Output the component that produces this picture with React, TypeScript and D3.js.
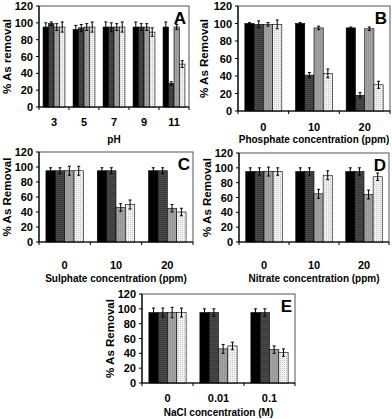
import * as d3 from 'd3';

// series order: black, dark grey, grey, dotted
const seriesKeys = ['s1', 's2', 's3', 's4'];
const yTicks = [0, 20, 40, 60, 80, 100, 120];

const phCats = ['3', '5', '7', '9', '11'];
const phMeans = [[95, 99, 95, 95], [92, 94, 95, 95], [95, 95, 95, 95], [95, 95, 95, 89], [95, 28, 95, 51]];
const phErrors = [[5, 2, 4, 6], [5, 4, 4, 6], [6, 5, 4, 6], [6, 4, 4, 5], [6, 2, 3, 4]];

const phosphateCats = ['0', '10', '20'];
const phosphateMeans = [[100, 99, 99, 99], [100, 41, 95, 43], [95, 18, 94, 30]];
const phosphateErrors = [[1, 4, 2, 5], [1, 3, 2, 5], [1, 3, 2, 4]];

const sulphateCats = ['0', '10', '20'];
const sulphateMeans = [[95, 95, 95, 95], [95, 95, 46, 50], [95, 95, 45, 40]];
const sulphateErrors = [[4, 4, 6, 6], [4, 4, 5, 6], [4, 4, 5, 5]];

const nitrateCats = ['0', '10', '20'];
const nitrateMeans = [[95, 95, 95, 95], [95, 95, 65, 90], [95, 95, 64, 88]];
const nitrateErrors = [[5, 5, 6, 5], [5, 5, 6, 6], [5, 5, 6, 5]];

const naclCats = ['0', '0.01', '0.1'];
const naclMeans = [[95, 95, 95, 95], [95, 95, 46, 50], [95, 95, 45, 41]];
const naclErrors = [[6, 6, 7, 6], [5, 5, 6, 5], [5, 5, 5, 5]];

const fills = ['#000000', 'url(#pat-dark)', 'url(#pat-mid)', 'url(#pat-dots)'];
const font = '"Liberation Sans", Arial, sans-serif';

type PanelProps = {
  letter: string;
  cats: string[];
  means: number[][];
  errors: number[][];
  xTitle: string;
  yTitle: string;
  left: number; right: number; top: number; bottom: number;
  catY: number; titleY: number; yTitleX: number;
};

function Panel(p: PanelProps) {
  const x = d3.scaleBand<string>().domain(p.cats).range([p.left, p.right])
    .paddingInner(0.27).paddingOuter(0.135);
  const inner = d3.scaleBand<string>().domain(seriesKeys).range([0, x.bandwidth()]);
  const y = d3.scaleLinear().domain([0, 120]).range([p.bottom, p.top]);
  const step = (p.right - p.left) / p.cats.length;
  const bounds = d3.range(p.cats.length + 1).map(i => p.left + i * step);

  return (
    <g fontFamily={font} fontWeight="bold" fill="#000">
      <rect x={p.left} y={p.top} width={p.right - p.left} height={p.bottom - p.top}
        fill="none" stroke="#555" strokeWidth={1} />
      {p.cats.map((c, ci) => (
        <g key={c}>
          {seriesKeys.map((s, si) => {
            const v = p.means[ci][si];
            const e = p.errors[ci][si];
            const bx = x(c)! + inner(s)!;
            const bw = inner.bandwidth();
            const cx = bx + bw / 2;
            return (
              <g key={s}>
                <rect x={bx} y={y(v)} width={bw} height={p.bottom - y(v)}
                  fill={fills[si]} stroke="#000" strokeWidth={0.6} />
                <line x1={cx} x2={cx} y1={y(v + e)} y2={y(v - e)} stroke="#000" strokeWidth={1} />
                <line x1={cx - 1.5} x2={cx + 1.5} y1={y(v + e)} y2={y(v + e)} stroke="#000" strokeWidth={1} />
                <line x1={cx - 1.5} x2={cx + 1.5} y1={y(v - e)} y2={y(v - e)} stroke="#000" strokeWidth={1} />
              </g>
            );
          })}
          <text x={x(c)! + x.bandwidth() / 2} y={p.catY} textAnchor="middle"
            dominantBaseline="central" fontSize={11}>{c}</text>
        </g>
      ))}
      {/* axes */}
      <line x1={p.left} x2={p.left} y1={p.top} y2={p.bottom} stroke="#000" strokeWidth={1.2} />
      <line x1={p.left} x2={p.right} y1={p.bottom} y2={p.bottom} stroke="#000" strokeWidth={1.2} />
      {yTicks.map(t => (
        <g key={t}>
          <line x1={p.left - 3} x2={p.left} y1={y(t)} y2={y(t)} stroke="#000" />
          <text x={p.left - 6} y={y(t)} textAnchor="end" dominantBaseline="central" fontSize={11}>{t}</text>
        </g>
      ))}
      {bounds.map((b, i) => (
        <line key={i} x1={b} x2={b} y1={p.bottom} y2={p.bottom + 3} stroke="#000" />
      ))}
      <text x={(p.left + p.right) / 2} y={p.titleY} textAnchor="middle"
        dominantBaseline="central" fontSize={10}>{p.xTitle}</text>
      <text transform={`translate(${p.yTitleX},${(p.top + p.bottom) / 2}) rotate(-90)`}
        textAnchor="middle" dominantBaseline="central" fontSize={11.5}>{p.yTitle}</text>
      <text x={p.right - 3} y={p.top + 12} textAnchor="end" dominantBaseline="central"
        fontSize={17}>{p.letter}</text>
    </g>
  );
}

export default function App() {
  return (
    <div style={{ position: 'absolute', left: 0, top: 0 }}>
      <svg width={392} height={419} style={{ display: 'block', background: '#fff' }}>
        <defs>
          <pattern id="pat-dark" width={2} height={2} patternUnits="userSpaceOnUse">
            <rect width={2} height={2} fill="#4a4a4a" />
            <rect width={2} height={1} fill="#3a3a3a" />
          </pattern>
          <pattern id="pat-mid" width={2} height={2} patternUnits="userSpaceOnUse">
            <rect width={2} height={2} fill="#a3a3a3" />
            <rect width={1} height={2} fill="#969696" />
          </pattern>
          <pattern id="pat-dots" width={2} height={2} patternUnits="userSpaceOnUse">
            <rect width={2} height={2} fill="#f2f2f2" />
            <rect width={1} height={1} fill="#c8c8c8" />
          </pattern>
        </defs>
        <Panel letter="A" cats={phCats} means={phMeans} errors={phErrors}
          xTitle="pH" yTitle="% As removal"
          left={39} right={189} top={6} bottom={107} catY={122} titleY={139} yTitleX={7} />
        <Panel letter="B" cats={phosphateCats} means={phosphateMeans} errors={phosphateErrors}
          xTitle="Phosphate concentration (ppm)" yTitle="% As Removal"
          left={238} right={390} top={6} bottom={111} catY={127} titleY={139} yTitleX={204} />
        <Panel letter="C" cats={sulphateCats} means={sulphateMeans} errors={sulphateErrors}
          xTitle="Sulphate concentration (ppm)" yTitle="% As Removal"
          left={39} right={193} top={152} bottom={242} catY={265} titleY={278} yTitleX={7} />
        <Panel letter="D" cats={nitrateCats} means={nitrateMeans} errors={nitrateErrors}
          xTitle="Nitrate concentration (ppm)" yTitle="% As Removal"
          left={239} right={389} top={153} bottom={242} catY={265} titleY={278} yTitleX={207} />
        <Panel letter="E" cats={naclCats} means={naclMeans} errors={naclErrors}
          xTitle="NaCl concentration (M)" yTitle="% As Removal"
          left={142} right={295} top={294} bottom={383} catY={398} titleY={412} yTitleX={110} />
      </svg>
    </div>
  );
}
